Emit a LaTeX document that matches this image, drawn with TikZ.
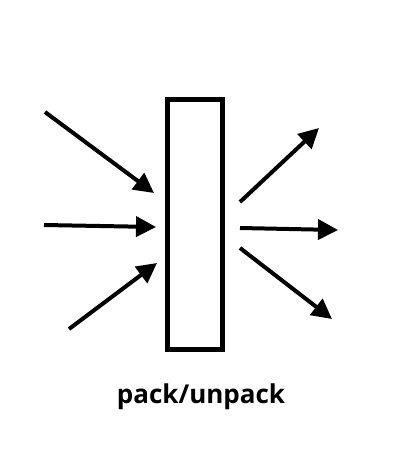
\documentclass[tikz,border=0pt]{standalone}
\usepackage{fontspec}
\setmainfont{Open Sans}
\usetikzlibrary{arrows.meta,positioning}

\begin{document}
\begin{tikzpicture}[x=1pt, y=-1pt,
  flow/.style={line width=4pt, -{Triangle[length=20pt, width=20pt]}}]
\useasboundingbox (0,0) rectangle (400,450);
% 对象
\node[draw, line width=5pt, minimum width=55pt, minimum height=250pt, inner sep=0pt] (box) at (195,224.5) {};
\node[font=\bfseries\fontsize{26}{30}\selectfont] (label) at (201,397) {pack/unpack};

% 入口
\coordinate (in1) at (45,112);
\coordinate (in2) at (44,225);
\coordinate (in3) at (69,329);
\coordinate (t1) at (154,193);
\coordinate (t2) at (156,227);
\coordinate (t3) at (157,263);

% 出口
\coordinate (s1) at (240,202);
\coordinate (s2) at (240,228);
\coordinate (s3) at (240,248);
\coordinate (out1) at (319,128);
\coordinate (out2) at (338,230);
\coordinate (out3) at (332,319);

% 箭头
\draw[flow] (in1) -- (t1);
\draw[flow] (in2) -- (t2);
\draw[flow] (in3) -- (t3);
\draw[flow] (s1) -- (out1);
\draw[flow] (s2) -- (out2);
\draw[flow] (s3) -- (out3);
\end{tikzpicture}
\end{document}
